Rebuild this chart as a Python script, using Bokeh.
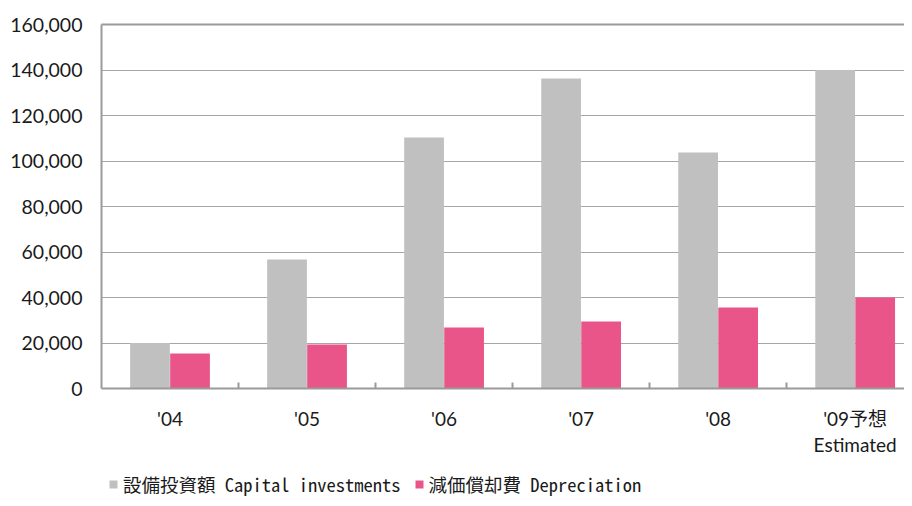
import numpy as np
from bokeh.plotting import figure
from bokeh.layouts import column
from bokeh.models import (Range1d, FixedTicker, NumeralTickFormatter, LinearAxis,
                          Legend, LegendItem, ColumnDataSource)
from bokeh.transform import dodge
from bokeh.embed import file_html
from bokeh.resources import INLINE

years = ["'04", "'05", "'06", "'07", "'08", "'09予想\nEstimated"]
capital = [20000, 56700, 110300, 136300, 103700, 140000]
depreciation = [15400, 19300, 26800, 29500, 35600, 40000]
y_ticks = [0, 20000, 40000, 60000, 80000, 100000, 120000, 140000, 160000]
series_names = ["設備投資額 Capital investments", "減価償却費 Depreciation"]

GRAY = "#c0c0c0"
PINK = "#ea5589"
AXIS = "#9a9a9a"
LABEL_FONT = "Lato, 'Noto Sans CJK JP', sans-serif"
LEGEND_FONT = "'Noto Sans Mono CJK JP', 'Noto Sans CJK JP', monospace"

centers = [i + 0.5 for i in range(len(years))]
src = ColumnDataSource(dict(x=centers, cap=capital, dep=depreciation))

p = figure(width=904, height=470, output_backend="svg", toolbar_location=None,
           x_range=Range1d(0, 5.86), y_range=Range1d(0, 160000),
           min_border_left=101, min_border_right=0, min_border_top=24,
           min_border_bottom=82)
p.outline_line_color = None
p.background_fill_color = "white"
p.border_fill_color = "white"

r1 = p.vbar(x=dodge("x", -0.146, range=p.x_range), top="cap", width=0.29,
            source=src, fill_color=GRAY, line_color=None)
r2 = p.vbar(x=dodge("x", 0.146, range=p.x_range), top="dep", width=0.29,
            source=src, fill_color=PINK, line_color=None)

# x axis
xa = p.xaxis[0]
xa.ticker = FixedTicker(ticks=centers, minor_ticks=list(range(1, len(years))))
xa.major_label_overrides = {c: y for c, y in zip(centers, years)}
xa.major_tick_line_color = None
xa.minor_tick_in = 6
xa.minor_tick_out = 0
xa.minor_tick_line_color = AXIS
xa.minor_tick_line_width = 2
xa.axis_line_color = AXIS
xa.axis_line_width = 2
xa.major_label_text_font = LABEL_FONT
xa.major_label_text_font_size = "19px"
xa.major_label_text_color = "#1a1a1a"
xa.major_label_standoff = 12
xa.major_label_text_line_height = 1.15

# y axis
ya = p.yaxis[0]
ya.ticker = FixedTicker(ticks=y_ticks)
ya.formatter = NumeralTickFormatter(format="0,0")
ya.major_tick_line_color = None
ya.minor_tick_line_color = None
ya.axis_line_color = AXIS
ya.axis_line_width = 2
ya.major_label_text_font = LABEL_FONT
ya.major_label_text_font_size = "19.5px"
ya.major_label_text_color = "#1a1a1a"
ya.major_label_standoff = 13

# top border
top = LinearAxis(axis_line_color=AXIS, axis_line_width=2,
                 major_tick_line_color=None, minor_tick_line_color=None,
                 major_label_text_font_size="0px", ticker=FixedTicker(ticks=[]))
p.add_layout(top, "above")

p.xgrid.grid_line_color = None
p.ygrid.grid_line_color = "#a6a6a6"
p.ygrid.grid_line_width = 1
p.ygrid.ticker = FixedTicker(ticks=y_ticks)

# legend strip (own small figure so the legend is not clipped by the chart frame)
q = figure(width=904, height=28, output_backend="svg", toolbar_location=None,
           x_axis_location=None, y_axis_location=None, min_border=0,
           x_range=Range1d(0, 1), y_range=Range1d(0, 1))
q.outline_line_color = None
q.grid.visible = False
nan = float("nan")
swatch = ColumnDataSource(dict(x=[nan], top=[nan]))
l1 = q.vbar(x="x", top="top", width=0.3, source=swatch, fill_color=GRAY, line_color=None)
l2 = q.vbar(x="x", top="top", width=0.3, source=swatch, fill_color=PINK, line_color=None)

legend = Legend(items=[LegendItem(label=series_names[0], renderers=[l1]),
                       LegendItem(label=series_names[1], renderers=[l2])],
                orientation="horizontal", location=(7, 1))
legend.label_text_font = LEGEND_FONT
legend.label_text_font_size = "18.5px"
legend.label_text_color = "#1a1a1a"
legend.label_height = 20
legend.glyph_width = 10
legend.glyph_height = 10
legend.label_standoff = 5
legend.spacing = 13
legend.padding = 0
legend.margin = 0
legend.border_line_color = None
legend.background_fill_alpha = 0
q.add_layout(legend, "center")

layout = column(p, q, spacing=0)
open("out.html", "w").write(file_html(layout, INLINE))
